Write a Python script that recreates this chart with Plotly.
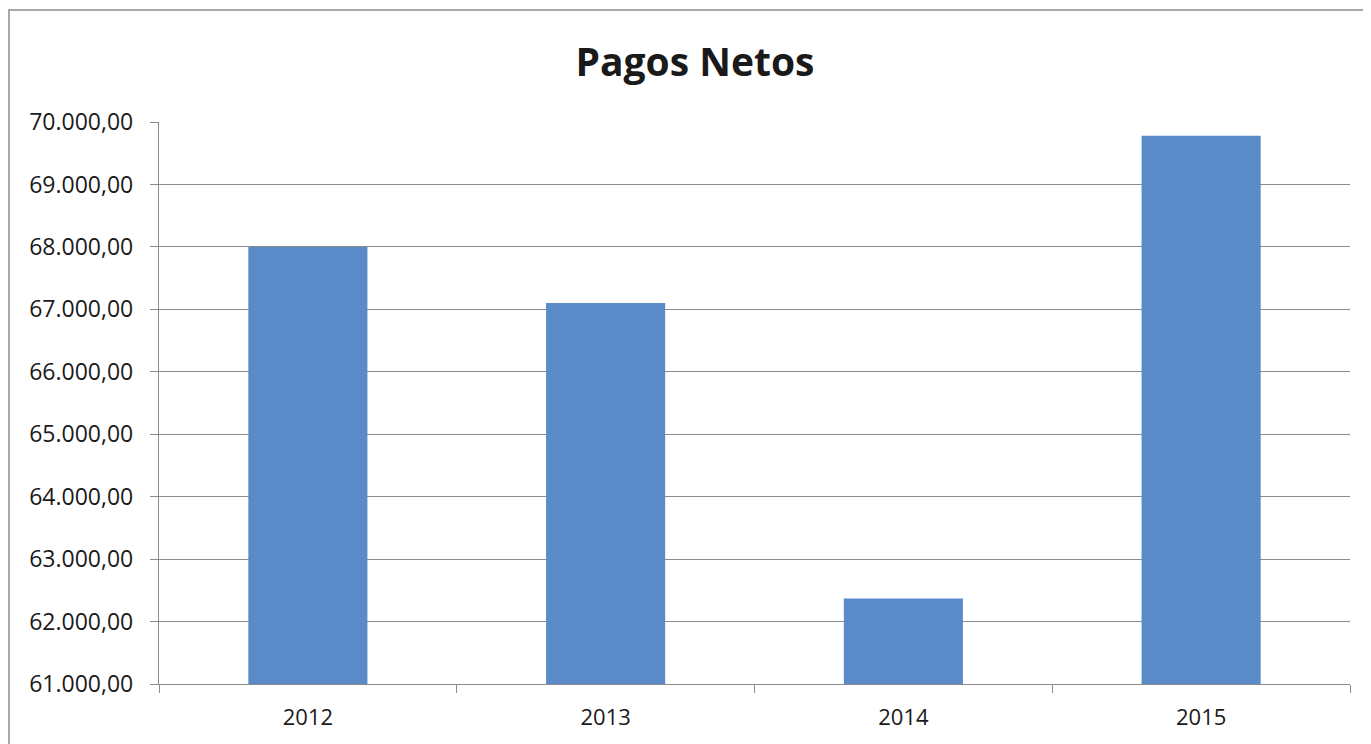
import plotly.graph_objects as go

years = ["2012", "2013", "2014", "2015"]
pagos = [68000, 67100, 62370, 69780]
y_ticks = [61000, 62000, 63000, 64000, 65000, 66000, 67000, 68000, 69000, 70000]

fig = go.Figure()
fig.add_trace(go.Bar(x=years, y=pagos, marker=dict(color="#5A8BC8", line=dict(width=0)), width=0.4))

W, H = 1363, 736
L, R, T, B = 151, 21, 114, 60
fig.update_layout(
    width=W, height=H,
    margin=dict(l=L, r=R, t=T, b=B),
    paper_bgcolor="white", plot_bgcolor="white",
    separators=",.",
    title=dict(text="<b>Pagos Netos</b>", x=0.504, xanchor="center", y=1 - 54 / H, yanchor="middle",
               font=dict(family="Open Sans", size=39, color="#1a1a1a")),
    showlegend=False,
    font=dict(family="Open Sans", size=22, color="#1a1a1a"),
)
fig.update_yaxes(range=[61000, 70000], tickvals=y_ticks, tickformat=",.2f",
                 showgrid=True, gridcolor="#8c8c8c", gridwidth=1.3,
                 showline=True, linecolor="#8c8c8c", linewidth=1.3,
                 ticks="outside", ticklen=8, tickcolor="#8c8c8c", zeroline=False,
                 ticklabelstandoff=12, tickfont=dict(size=23))
fig.update_xaxes(showline=True, linecolor="#8c8c8c", linewidth=1.3, mirror=False,
                 ticks="outside", ticklen=8, tickcolor="#8c8c8c", tickson="boundaries",
                 ticklabelstandoff=13, tickfont=dict(size=22))
pw, ph = W - L - R, H - T - B
fig.add_shape(type="rect", xref="paper", yref="paper",
              x0=(1 - L) / pw, x1=1.2, y0=-0.3, y1=(H - B - 2) / ph,
              line=dict(color="#8c8c8c", width=1.5), fillcolor="rgba(0,0,0,0)", layer="below")

fig.write_html("out.html")
